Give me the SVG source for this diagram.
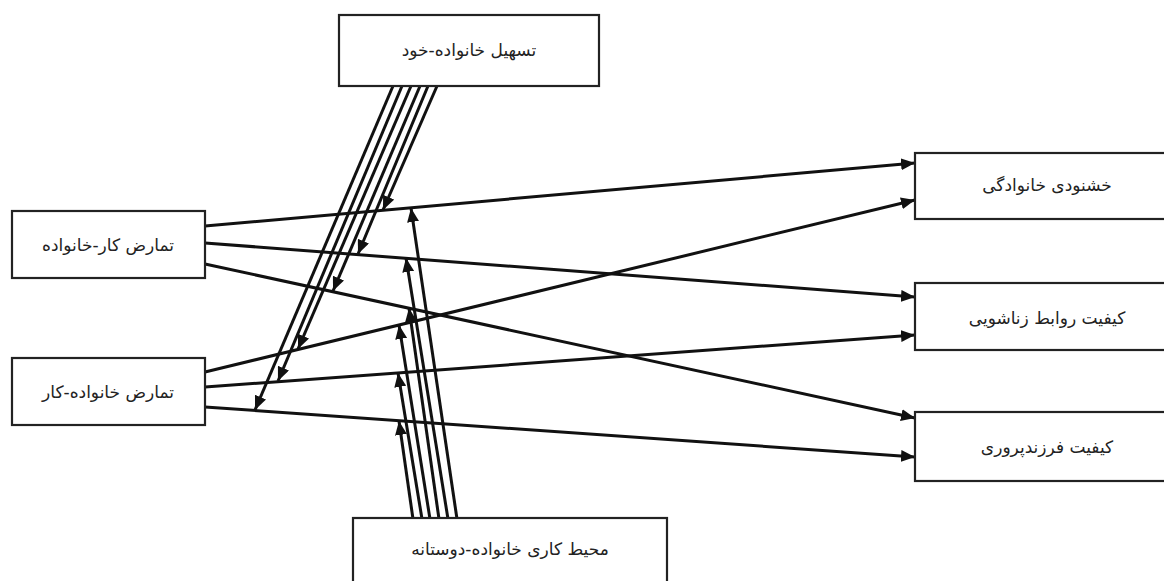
<svg xmlns="http://www.w3.org/2000/svg" width="1164" height="581" viewBox="0 0 1164 581">
<style>
.box{fill:#fff;stroke:#222;stroke-width:2.2}
.lbl{font-family:"DejaVu Sans","Noto Sans",sans-serif;font-size:17px;fill:#222;text-anchor:middle;dominant-baseline:central}
.c{fill:none;stroke:#111;stroke-width:3;marker-end:url(#ah)}
</style>
<defs>
<marker id="ah" markerUnits="userSpaceOnUse" markerWidth="14" markerHeight="12" viewBox="0 0 14 12" refX="14" refY="6" orient="auto">
<path d="M0,0 L14,6 L0,12 Z" fill="#111"/>
</marker>
</defs>
<rect width="1164" height="581" fill="#fff"/>
<g id="connectors">
<path class="c" d="M205,226 L915,163"/>
<path class="c" d="M205,243 L915,297"/>
<path class="c" d="M205,264 L915,418"/>
<path class="c" d="M205,372 L915,200"/>
<path class="c" d="M205,387 L915,335"/>
<path class="c" d="M205,407 L915,457"/>
<path class="c" d="M437,86 L383,210"/>
<path class="c" d="M428,86 L358,254"/>
<path class="c" d="M420,86 L333,291"/>
<path class="c" d="M411,86 L298,349"/>
<path class="c" d="M402,86 L278,381"/>
<path class="c" d="M393,86 L255,410"/>
<path class="c" d="M457,519 L411,208"/>
<path class="c" d="M448,519 L406,258"/>
<path class="c" d="M439,519 L409,308"/>
<path class="c" d="M430,519 L399,325"/>
<path class="c" d="M422,519 L398,373"/>
<path class="c" d="M413,519 L399,421"/>
</g>
<g id="n-top"><rect class="box" x="339" y="15" width="260" height="71"/><text class="lbl" x="469" y="50" direction="rtl">تسهیل خانواده-خود</text></g>
<g id="n-left1"><rect class="box" x="12" y="211" width="193" height="67"/><text class="lbl" x="108" y="245" direction="rtl">تمارض کار-خانواده</text></g>
<g id="n-left2"><rect class="box" x="12" y="358" width="193" height="67"/><text class="lbl" x="108" y="392" direction="rtl">تمارض خانواده-کار</text></g>
<g id="n-right1"><rect class="box" x="915" y="153" width="270" height="66"/><text class="lbl" x="1047" y="185" direction="rtl">خشنودی خانوادگی</text></g>
<g id="n-right2"><rect class="box" x="915" y="283" width="270" height="67"/><text class="lbl" x="1047" y="318" direction="rtl">کیفیت روابط زناشویی</text></g>
<g id="n-right3"><rect class="box" x="915" y="412" width="270" height="69"/><text class="lbl" x="1047" y="447" direction="rtl">کیفیت فرزندپروری</text></g>
<g id="n-bottom"><rect class="box" x="353" y="518" width="314" height="80"/><text class="lbl" x="510" y="549" direction="rtl">محیط کاری خانواده-دوستانه</text></g>
</svg>
